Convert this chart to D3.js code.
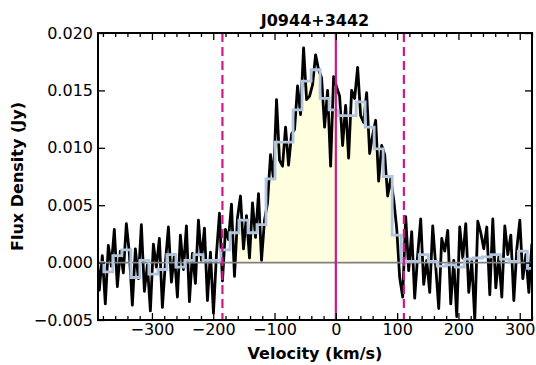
<!DOCTYPE html>
<html>
<head>
<meta charset="utf-8">
<script src="https://cdn.jsdelivr.net/npm/d3@7"></script>
<style>
  html, body { margin: 0; padding: 0; background: #fff; }
  svg { display: block; }
  text { font-family: "DejaVu Sans", sans-serif; fill: #000; }
</style>
</head>
<body>
<svg id="chart" width="536" height="365"></svg>
<script>
// HI spectrum of J0944+3442

// Raw channels: first channel edge and width (km/s)
const chanStart = -393.2;
const chanWidth = 4.9;
const fluxRaw = [
   0.0018, -0.0024,  0.0006,  -0.0036,  0.0015, -0.0003,   0.0029, -0.0021,  0.0010,
  -0.0009,  0.0034,  0.0008,  -0.0037,  0.0012, -0.0014,   0.0033, -0.0025, -0.0002,
  -0.0042,  0.0016, -0.0004,   0.0021, -0.0039,  0.0000,   0.0031, -0.0017,  0.0007,
  -0.0030,  0.0024, -0.0006,   0.0032, -0.0034,  0.0008,  -0.0018,  0.0037,  0.0002,
   0.0030, -0.0033,  0.0009,  -0.0044,  0.0007,  0.0043,  -0.0016,  0.0029,  0.0020,
   0.0051, -0.0012,  0.0039,   0.0058,  0.0012,  0.0041,   0.0004,  0.0052,  0.0022,
   0.0060,  0.0002,  0.0037,   0.0052,  0.0094,  0.0073,   0.0142,  0.0089,  0.0084,
   0.0118,  0.0085,  0.0112,   0.0116,  0.0154,  0.0129,   0.0187,  0.0142,  0.0145,
   0.0155,  0.0181,  0.0168,   0.0161,  0.0118,  0.0150,   0.0084,  0.0162,  0.0153,
   0.0145,  0.0102,  0.0137,   0.0091,  0.0150,  0.0143,   0.0170,  0.0128,  0.0122,
   0.0148,  0.0095,  0.0111,   0.0124,  0.0071,  0.0102,   0.0094,  0.0058,  0.0073,
   0.0055,  0.0030, -0.0013,  -0.0030,  0.0040, -0.0007,   0.0027, -0.0031,  0.0007,
   0.0038, -0.0019,  0.0002,  -0.0026,  0.0032, -0.0003,  -0.0040,  0.0021,  0.0010,
   0.0028, -0.0036,  0.0002,  -0.0047,  0.0031,  0.0004,   0.0034, -0.0026,  0.0001,
  -0.0050,  0.0036,  0.0026,   0.0012,  0.0031, -0.0028,   0.0038, -0.0022,  0.0005,
  -0.0030,  0.0032,  0.0007,   0.0024, -0.0033,  0.0012,   0.0037, -0.0014,  0.0007,
  -0.0026,  0.0016, -0.0005
];

// Smoothed spectrum: bins of three channels
const binStart = -393.2;
const binWidth = 14.7;
const fluxSmooth = [
   0.0000, -0.0008,  0.0006,  0.0011, -0.0013,  0.0002, -0.0010, -0.0006,
   0.0007, -0.0004,  0.0002,  0.0007,  0.0002,  0.0002,  0.0011,  0.0026,
   0.0037,  0.0026,  0.0033,  0.0073,  0.0105,  0.0105,  0.0133,  0.0158,
   0.0168,  0.0143,  0.0133,  0.0128,  0.0128,  0.0140,  0.0118,  0.0099,
   0.0075,  0.0024,  0.0001,  0.0001,  0.0007,  0.0001, -0.0003, -0.0002,
  -0.0004,  0.0003,  0.0004,  0.0005,  0.0007,  0.0003,  0.0001,  0.0010,
  -0.0005
];

// Line-width window and systemic velocity (km/s)
const windowEdges = [-185, 111];
const systemic = [0];
const fillRange = [-165, 105];

const xDomain = [-388, 320];
const yDomain = [-0.005, 0.020];
const xMajorTicks = [-300, -200, -100, 0, 100, 200, 300];
const yTicks = [-0.005, 0.000, 0.005, 0.010, 0.015, 0.020];

const title = "J0944+3442";
const xLabel = "Velocity (km/s)";
const yLabel = "Flux Density (Jy)";

const margin = { left: 98, right: 4, top: 33, bottom: 45 };
const W = 536, H = 365;
const pw = W - margin.left - margin.right;
const ph = H - margin.top - margin.bottom;

const svg = d3.select("#chart");
const g = svg.append("g").attr("transform", `translate(${margin.left},${margin.top})`);

const x = d3.scaleLinear().domain(xDomain).range([0, pw]);
const y = d3.scaleLinear().domain(yDomain).range([ph, 0]);

// raw channels at their centres; smoothed bins as steps with a trailing edge
const rawPts = fluxRaw.map((f, i) => [chanStart + (i + 0.5) * chanWidth, f]);
const smoothPts = fluxSmooth.map((f, i) => [binStart + i * binWidth, f]);
smoothPts.push([binStart + fluxSmooth.length * binWidth, fluxSmooth[fluxSmooth.length - 1]]);

const defs = svg.append("defs");
defs.append("clipPath").attr("id", "plotClip")
  .append("rect").attr("x", 0).attr("y", 0).attr("width", pw).attr("height", ph);
defs.append("clipPath").attr("id", "fillClip")
  .append("rect")
  .attr("x", x(fillRange[0])).attr("y", 0)
  .attr("width", x(fillRange[1]) - x(fillRange[0])).attr("height", ph);

const plot = g.append("g").attr("clip-path", "url(#plotClip)");

// shaded emission region under the smoothed profile
plot.append("g").attr("clip-path", "url(#fillClip)")
  .append("path")
  .datum(smoothPts)
  .attr("fill", "#ffffe0")
  .attr("d", d3.area().curve(d3.curveStepAfter)
    .x(d => x(d[0])).y0(y(0)).y1(d => y(d[1])));

// raw channels
plot.append("path")
  .datum(rawPts)
  .attr("fill", "none")
  .attr("stroke", "#000")
  .attr("stroke-width", 2.8)
  .attr("stroke-linejoin", "round")
  .attr("d", d3.line().x(d => x(d[0])).y(d => y(d[1])));

// zero level
plot.append("line")
  .attr("x1", 0).attr("x2", pw)
  .attr("y1", y(0)).attr("y2", y(0))
  .attr("stroke", "#808080").attr("stroke-width", 1.6);

// smoothed spectrum
plot.append("path")
  .datum(smoothPts)
  .attr("fill", "none")
  .attr("stroke", "#b0c4de")
  .attr("stroke-width", 2.8)
  .attr("d", d3.line().curve(d3.curveStepAfter).x(d => x(d[0])).y(d => y(d[1])));

// velocity markers
const magenta = "#cc1a8c";
plot.selectAll("line.win").data(windowEdges).enter().append("line")
  .attr("class", "win")
  .attr("x1", d => x(d)).attr("x2", d => x(d))
  .attr("y1", 0).attr("y2", ph)
  .attr("stroke", magenta).attr("stroke-width", 2.2)
  .attr("stroke-dasharray", "9,5");
plot.selectAll("line.sys").data(systemic).enter().append("line")
  .attr("class", "sys")
  .attr("x1", d => x(d)).attr("x2", d => x(d))
  .attr("y1", 0).attr("y2", ph)
  .attr("stroke", magenta).attr("stroke-width", 2.2);

// axes with inward ticks
const xMinor = d3.range(-380, 321, 20).filter(v => v % 100 !== 0);
const fmtY = d3.format(".3f");

g.append("g").attr("transform", `translate(0,${ph})`)
  .call(d3.axisBottom(x).tickValues(xMinor).tickSize(-4).tickFormat(""))
  .call(a => a.select(".domain").remove());
g.append("g").attr("transform", `translate(0,${ph})`)
  .call(d3.axisBottom(x).tickValues(xMajorTicks).tickSize(-7).tickPadding(4).tickFormat(d3.format("d")))
  .call(a => a.select(".domain").remove());
g.append("g")
  .call(d3.axisTop(x).tickValues(xMinor).tickSize(-4).tickFormat(""))
  .call(a => a.select(".domain").remove());
g.append("g")
  .call(d3.axisTop(x).tickValues(xMajorTicks).tickSize(-7).tickFormat(""))
  .call(a => a.select(".domain").remove());
g.append("g")
  .call(d3.axisLeft(y).tickValues(yTicks).tickSize(-7).tickPadding(5).tickFormat(fmtY))
  .call(a => a.select(".domain").remove());
g.append("g").attr("transform", `translate(${pw},0)`)
  .call(d3.axisRight(y).tickValues(yTicks).tickSize(-7).tickFormat(""))
  .call(a => a.select(".domain").remove());

g.selectAll(".tick line").attr("stroke", "#000").attr("stroke-width", 1.3);
g.selectAll(".tick text")
  .style("font-family", "'DejaVu Sans', sans-serif")
  .style("font-size", "16px");

// frame
g.append("rect")
  .attr("x", 0).attr("y", 0).attr("width", pw).attr("height", ph)
  .attr("fill", "none").attr("stroke", "#000").attr("stroke-width", 2);

// labels
svg.append("text")
  .attr("x", margin.left + pw / 2).attr("y", 26)
  .attr("text-anchor", "middle")
  .style("font-size", "16px").style("font-weight", "bold")
  .text(title);
svg.append("text")
  .attr("x", margin.left + pw / 2).attr("y", 359)
  .attr("text-anchor", "middle")
  .style("font-size", "16px").style("font-weight", "bold")
  .text(xLabel);
svg.append("text")
  .attr("transform", `translate(23,${margin.top + ph / 2}) rotate(-90)`)
  .attr("text-anchor", "middle")
  .style("font-size", "16px").style("font-weight", "bold")
  .text(yLabel);
</script>
</body>
</html>
